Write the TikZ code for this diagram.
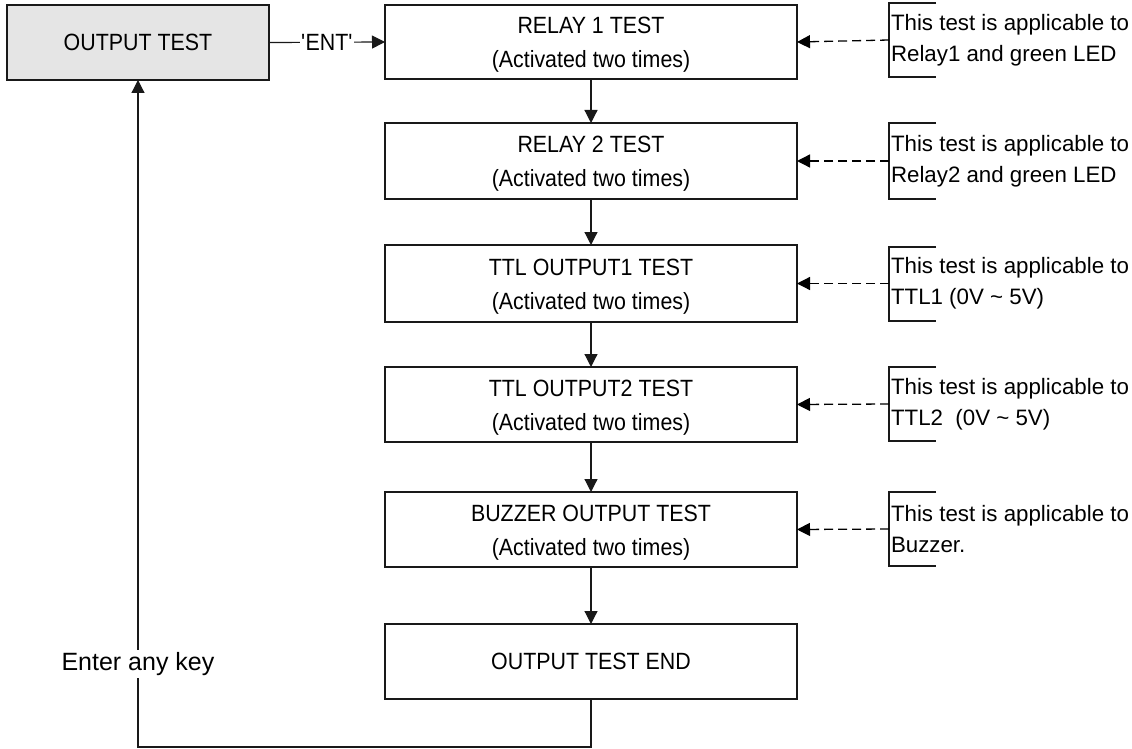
\documentclass[tikz,border=0pt]{standalone}
\usepackage{fontspec}
\setmainfont{Liberation Sans}
\newfontfamily\boxfont[FakeStretch=0.91]{Liberation Sans}
\newcommand\tophs{\rule{0pt}{22pt}}
\usetikzlibrary{arrows.meta}
\tikzset{
  every picture/.style={x=1pt,y=-1pt},
  line/.style={draw=black!90, line width=1.2pt},
  tip/.style={-{Triangle[length=13pt,width=13pt]}},
  stepbox/.style={line, rectangle, minimum width=412pt, minimum height=75pt, inner sep=0pt, outer sep=0pt, align=center, font=\boxfont\fontsize{23.5}{34}\selectfont},
  note/.style={anchor=west, inner sep=2pt, outer sep=0pt, align=left, font=\fontsize{22.3}{31}\selectfont},
  dashline/.style={draw=black, line width=1.3pt, dash pattern=on 9pt off 5pt},
}
\begin{document}
\begin{tikzpicture}
\useasboundingbox (0,0) rectangle (1132,749);
% main column
\node[stepbox, minimum width=262pt, fill=black!10] (ot) at (138,42.5) {OUTPUT TEST};
\node[stepbox, minimum height=74pt] (r1) at (591,42) {\tophs RELAY 1 TEST\\(Activated two times)};
\node[stepbox, minimum height=76pt] (r2) at (591,161) {\tophs RELAY 2 TEST\\(Activated two times)};
\node[stepbox, minimum height=77pt] (t1) at (591,283.5) {\tophs TTL OUTPUT1 TEST\\(Activated two times)};
\node[stepbox] (t2) at (591,404.5) {\tophs TTL OUTPUT2 TEST\\(Activated two times)};
\node[stepbox] (bz) at (591,529.5) {\tophs BUZZER OUTPUT TEST\\(Activated two times)};
\node[stepbox] (en) at (591,661.5) {OUTPUT TEST END};
% annotations
\node[note] (n1) at (889,40) {This test is applicable to\\Relay1 and green LED};
\node[note] (n2) at (889,161) {This test is applicable to\\Relay2 and green LED};
\node[note] (n3) at (889,283.5) {This test is applicable to\\TTL1 (0V \textasciitilde{} 5V)};
\node[note] (n4) at (889,404) {This test is applicable to\\TTL2\ \ (0V \textasciitilde{} 5V)};
\node[note] (n5) at (889,529) {This test is applicable to\\Buzzer.};
\foreach \n/\t/\b in {n1/3/77, n2/123/199, n3/247/321, n4/367/441, n5/492/566}{
  \draw[line] (936,\t) -| (889,\b) -- (936,\b);
}
% connectors
\draw[line, tip] (ot.east) -- node[fill=white, inner sep=1pt, font=\boxfont\fontsize{23.5}{28}\selectfont] (ent) {\textquotesingle ENT\textquotesingle} (r1.west);
\draw[line, tip] (r1) -- (r2);
\draw[line, tip] (r2) -- (t1);
\draw[line, tip] (t1) -- (t2);
\draw[line, tip] (t2) -- (bz);
\draw[line, tip] (bz) -- (en);
\foreach \n/\b in {n1/r1, n2/r2, n3/t1, n4/t2, n5/bz}{
  \draw[dashline, tip] (\n.west) -- (\b.east);
}
\coordinate (lb) at (591,747);
\draw[line, tip] (en.south) -- (lb) -| (ot.south);
\node[fill=white, inner sep=2pt, font=\fontsize{25}{30}\selectfont] (key) at (138,664) {Enter any key};
\end{tikzpicture}
\end{document}
